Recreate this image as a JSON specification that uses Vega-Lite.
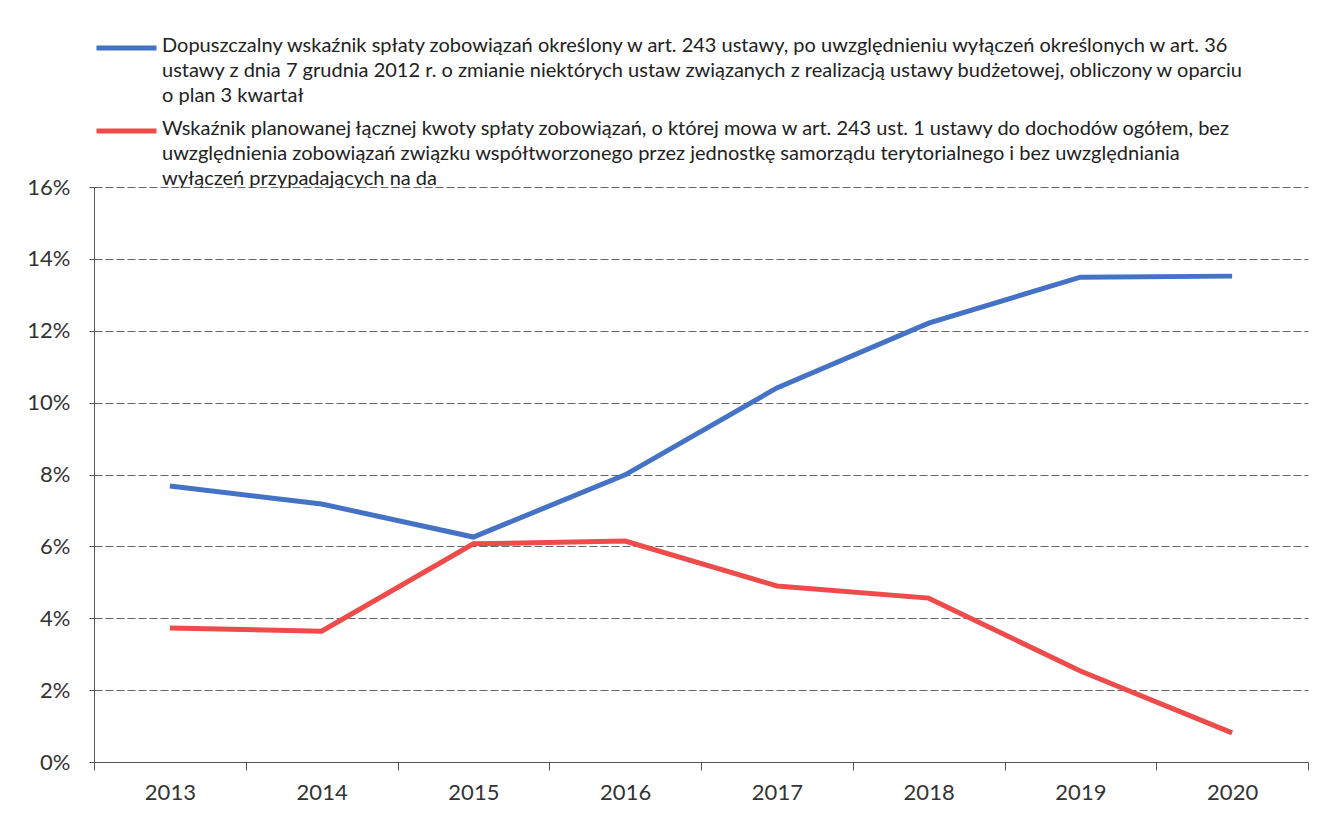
{
  "$schema": "https://vega.github.io/schema/vega-lite/v6.json",
  "width": 1214,
  "height": 575,
  "autosize": "none",
  "padding": {"left": 94, "top": 187, "right": 15, "bottom": 58},
  "background": "white",
  "data": {
    "values": [
      {"rok": "2013", "seria": "A", "wartosc": 0.0768},
      {"rok": "2014", "seria": "A", "wartosc": 0.0718},
      {"rok": "2015", "seria": "A", "wartosc": 0.0626},
      {"rok": "2016", "seria": "A", "wartosc": 0.0799},
      {"rok": "2017", "seria": "A", "wartosc": 0.1041},
      {"rok": "2018", "seria": "A", "wartosc": 0.1221},
      {"rok": "2019", "seria": "A", "wartosc": 0.1349},
      {"rok": "2020", "seria": "A", "wartosc": 0.1352},
      {"rok": "2013", "seria": "B", "wartosc": 0.0373},
      {"rok": "2014", "seria": "B", "wartosc": 0.0364},
      {"rok": "2015", "seria": "B", "wartosc": 0.0607},
      {"rok": "2016", "seria": "B", "wartosc": 0.0615},
      {"rok": "2017", "seria": "B", "wartosc": 0.0490},
      {"rok": "2018", "seria": "B", "wartosc": 0.0456},
      {"rok": "2019", "seria": "B", "wartosc": 0.0253},
      {"rok": "2020", "seria": "B", "wartosc": 0.0081}
    ]
  },
  "mark": {"type": "line", "strokeWidth": 5, "strokeCap": "butt"},
  "encoding": {
    "x": {
      "field": "rok",
      "type": "ordinal",
      "scale": {"type": "band", "paddingInner": 0, "paddingOuter": 0},
      "axis": {
        "title": null,
        "labelAngle": 0,
        "tickBand": "extent",
        "grid": false,
        "domainColor": "#555",
        "tickColor": "#555",
        "tickSize": 8,
        "labelFont": "Lato",
        "labelFontSize": 22,
        "labelColor": "#333",
        "labelPadding": 12
      }
    },
    "y": {
      "field": "wartosc",
      "type": "quantitative",
      "scale": {"domain": [0, 0.16], "nice": false},
      "axis": {
        "title": null,
        "values": [0, 0.02, 0.04, 0.06, 0.08, 0.1, 0.12, 0.14, 0.16],
        "format": ".0%",
        "grid": true,
        "gridColor": "#666",
        "gridDash": [8, 3],
        "gridWidth": 1,
        "domainColor": "#555",
        "tickColor": "#555",
        "tickSize": 5,
        "labelFont": "Lato",
        "labelFontSize": 22,
        "labelColor": "#333",
        "labelPadding": 19
      }
    },
    "color": {
      "field": "seria",
      "type": "nominal",
      "scale": {"domain": ["A", "B"], "range": ["#4472C4", "#EE4B4B"]},
      "legend": {
        "title": null,
        "orient": "none",
        "legendX": 0,
        "legendY": -151,
        "padding": 0,
        "direction": "vertical",
        "symbolType": "stroke",
        "symbolSize": 3600,
        "symbolStrokeWidth": 5,
        "labelFont": "Lato",
        "labelFontSize": 20,
        "labelColor": "#222",
        "labelLimit": 1300,
        "labelOffset": 3,
        "labelBaseline": "top",
        "rowPadding": 13,
        "labelExpr": "datum.value == 'A' ? ['Dopuszczalny wskaźnik spłaty zobowiązań określony w art. 243 ustawy, po uwzględnieniu wyłączeń określonych w art. 36', 'ustawy z dnia 7 grudnia 2012 r. o zmianie niektórych ustaw związanych z realizacją ustawy budżetowej, obliczony w oparciu', 'o plan 3 kwartał'] : ['Wskaźnik planowanej łącznej kwoty spłaty zobowiązań, o której mowa w art. 243 ust. 1 ustawy do dochodów ogółem, bez', 'uwzględnienia zobowiązań związku współtworzonego przez jednostkę samorządu terytorialnego i bez uwzględniania', 'wyłączeń przypadających na da']",
        "encode": {
          "labels": {"update": {"lineHeight": {"value": 25}, "y": {"value": 0}}},
          "symbols": {"update": {"y": {"value": 12}}}
        }
      }
    }
  },
  "config": {
    "view": {"stroke": null}
  }
}
